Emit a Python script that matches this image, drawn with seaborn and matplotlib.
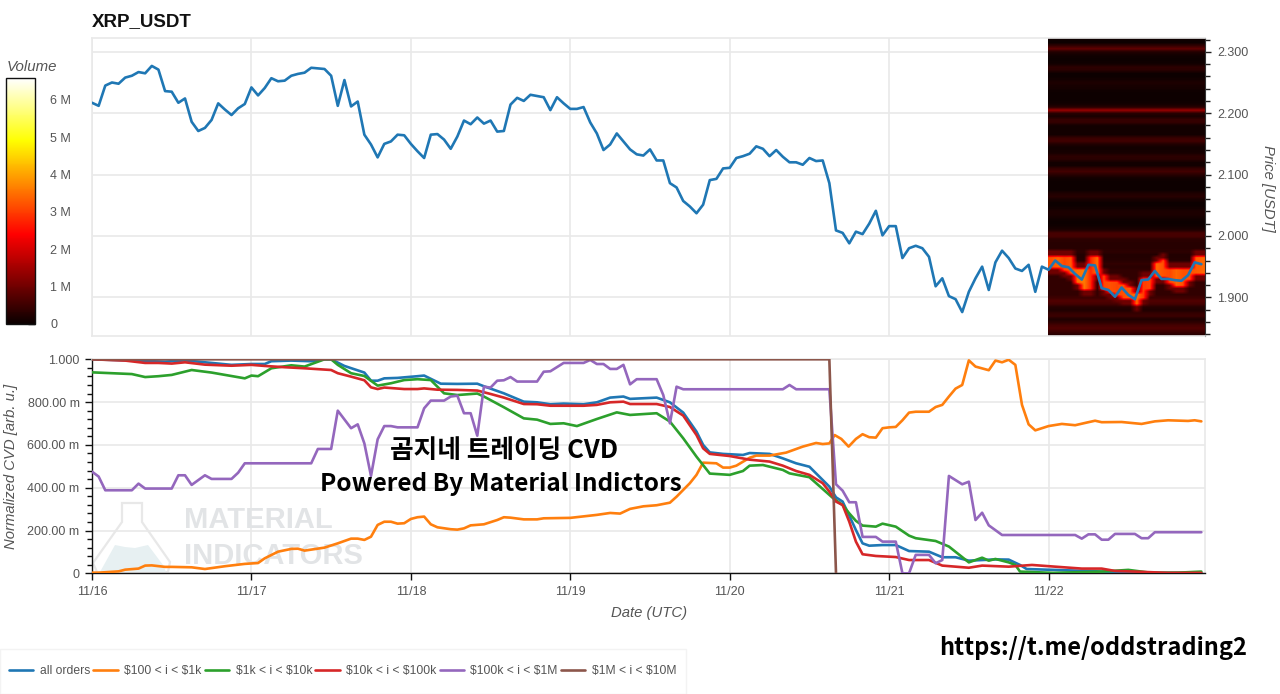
import numpy as np
import pandas as pd
import matplotlib
matplotlib.use("Agg")
import matplotlib.pyplot as plt
import seaborn as sns
from matplotlib.patches import Polygon, Rectangle
from matplotlib.ticker import MultipleLocator

sns.set_theme(style="white")
plt.rcParams["font.family"] = ["Liberation Sans", "DejaVu Sans"]
plt.rcParams["text.parse_math"] = False

price = [2.217,2.212,2.245,2.250,2.248,2.258,2.261,2.267,2.265,2.277,2.271,2.236,2.235,2.217,2.224,2.186,2.171,2.176,2.189,2.216,2.206,2.197,2.208,2.215,
2.242,2.229,2.241,2.257,2.252,2.253,2.261,2.264,2.266,2.274,2.273,2.272,2.261,2.212,2.254,2.211,2.219,2.165,2.149,2.128,2.150,2.154,2.165,2.164,
2.150,2.138,2.127,2.165,2.166,2.157,2.142,2.162,2.188,2.182,2.193,2.183,2.188,2.170,2.171,2.214,2.225,2.220,2.230,2.228,2.226,2.205,2.226,2.216,
2.207,2.207,2.210,2.185,2.167,2.140,2.149,2.167,2.154,2.141,2.133,2.131,2.141,2.123,2.123,2.086,2.079,2.057,2.048,2.037,2.051,2.091,2.093,2.110,
2.111,2.127,2.130,2.134,2.146,2.142,2.130,2.140,2.129,2.120,2.120,2.116,2.127,2.122,2.123,2.086,2.009,2.005,1.988,2.007,2.003,2.020,2.041,2.001,
2.016,2.016,1.964,1.980,1.984,1.980,1.966,1.918,1.931,1.902,1.897,1.876,1.909,1.931,1.950,1.912,1.957,1.976,1.964,1.947,1.943,1.953,1.909,1.950,
1.945,1.960,1.951,1.949,1.938,1.929,1.953,1.952,1.915,1.912,1.901,1.916,1.904,1.897,1.928,1.929,1.943,1.930,1.930,1.928,1.927,1.936,1.957,1.954]
price_hour = list(range(168))

all_h = [0,6,11,14,17,21,24,26,27,30,33,35,36,38,41,42,43,44,46,49,50,52.5,55,58,59,62,65,67,69,71,74,76,78,80,81,83,85,87,89,91,92,93,95,98,99,102,104,106,108,110,111,112,113,114,115,116,117,119,121,123,126,128,130,132,136,138,139.7,140.7,144.7,149.7,154.7,159.7,167]
all_v = [1.0,.994,.989,.995,.986,.974,.978,.978,.991,.994,.991,1.0,1.0,.969,.938,.900,.900,.911,.913,.921,.924,.886,.885,.886,.874,.841,.802,.799,.790,.793,.790,.799,.821,.826,.815,.818,.821,.799,.751,.662,.600,.565,.558,.553,.562,.558,.537,.514,.498,.436,.405,.355,.335,.269,.202,.140,.129,.132,.132,.104,.101,.075,.075,.059,.065,.064,.039,.020,.016,.011,.005,.002,.002]

o_h = [0,1,4,5,7,8,9,11,12,15,17,20,23,25,26,28,30,31,32,35,37,39,40,41,42,43,44,45,46,47,48,49,50,51,52,54,55,56,57,59,61,62,63,65,67,68,72,74,76,78,79.5,81,83,85,87,88,90,91,92,94,95,96,97,99,100,102,104.5,107,109,110,111,111.8,112.8,113.9,115,116,117,118,119,120,121,122,123,124,126,127,128,129,130,131,132,133,135,136,137,138,139,140,141,142,144,146,148,149.7,151,152,155,158,160,162,165,166,167]
o_v = [.003,.003,.009,.017,.022,.036,.037,.030,.030,.028,.020,.033,.044,.048,.070,.101,.114,.115,.106,.120,.140,.162,.162,.156,.171,.226,.241,.241,.232,.234,.254,.262,.265,.229,.215,.206,.204,.210,.224,.229,.249,.262,.260,.252,.252,.257,.259,.266,.273,.282,.279,.301,.313,.318,.330,.358,.421,.460,.517,.514,.494,.494,.503,.540,.550,.550,.564,.592,.609,.604,.607,.646,.628,.592,.628,.650,.636,.634,.678,.682,.684,.715,.751,.755,.755,.777,.787,.826,.863,.880,.995,.966,.949,.994,.986,.998,.974,.787,.696,.668,.688,.698,.692,.704,.713,.706,.707,.698,.710,.715,.712,.715,.710]

g_h = [0,6,8,10,12,15,18,23,24,25,27,30,32,35,36,37,39,41,43,45,47,49,51,53,55,58,59,62,65,67,69,71,73,76,79,81,85,87,89,91,93,96,98,99,101,104,105,108,110,111.6,113,114,115,116,118,119,121,123,124,127,129,132,134,135,136,138,139,139.7,144.7,152,156,159.5,163.5,167]
g_v = [.939,.931,.917,.921,.927,.950,.938,.911,.924,.921,.958,.972,.966,1.0,1.0,.974,.935,.922,.877,.888,.903,.907,.903,.841,.833,.840,.826,.776,.724,.718,.698,.701,.688,.721,.752,.740,.748,.709,.631,.545,.466,.460,.478,.503,.506,.483,.467,.449,.394,.350,.319,.280,.245,.223,.218,.232,.218,.176,.164,.151,.125,.051,.073,.059,.067,.051,.039,.008,.002,.008,.016,.002,.003,.008]

r_h = [0,5,8,10,12,14,17,21,24,26,29,32,36,37,39,41,42,43,44,47,49,50,52,55,58,60,62,65,67,69,74,76,78,80,81,85,87,89,91,92,93,96,99,102,104,106,108,110,111,112,113,114,115,116,118,121,123,126,128,132,134,138,141.5,145,149,152,154,157,162,167]
r_v = [1.0,.994,.983,.983,.980,.986,.975,.970,.974,.969,.963,.958,.950,.935,.919,.902,.869,.861,.868,.861,.861,.864,.858,.857,.854,.838,.821,.791,.790,.783,.783,.787,.799,.802,.791,.791,.777,.737,.646,.584,.558,.548,.531,.522,.503,.478,.460,.421,.382,.335,.319,.241,.148,.089,.081,.076,.062,.062,.036,.026,.036,.031,.039,.031,.022,.022,.011,.008,.002,.002]

p_h = [0,1,2,6,7,8,12,13,14,15,17,18,21,22,23,33,34,36,37,39,40,41,42,43,44,45,46,49,50,51,53,54,55,56,57,58,59,60,61,62,63,64,67,68,69,71,74,75,76,77,78,79,80,81,82,85,86,87,88,89,104,105,106,111,112,113,114,115,116,118,119,121,122,123,124,126,127,128,129,131,132,133,134,135,137,148,149,150,151,152,153,154,157,158,159,160,167]
p_v = [.475,.452,.388,.388,.419,.396,.396,.458,.458,.413,.458,.441,.441,.470,.514,.514,.581,.581,.760,.678,.696,.607,.455,.626,.688,.688,.682,.682,.771,.807,.807,.826,.830,.748,.748,.643,.872,.868,.900,.902,.917,.896,.896,.942,.944,.983,.983,.997,.978,.978,.955,.955,.974,.883,.907,.907,.833,.701,.872,.860,.860,.880,.860,.860,.416,.386,.332,.332,.170,.170,.148,.148,0,0,.086,.086,.047,.062,.455,.416,.428,.249,.283,.224,.179,.179,.162,.182,.182,.157,.157,.184,.184,.164,.164,.192,.192]

b_h = [0,111,112]
b_v = [1.0,1.0,0.0]

series_names = ["all orders", "$100 < i < $1k", "$1k < i < $10k", "$10k < i < $100k", "$100k < i < $1M", "$1M < i < $10M"]
series_hours = [all_h, o_h, g_h, r_h, p_h, b_h]
series_values = [all_v, o_v, g_v, r_v, p_v, b_v]
colors = ["#1f77b4", "#ff7f0e", "#2ca02c", "#d62728", "#9467bd", "#8c564b"]

day_labels = ["11/16", "11/17", "11/18", "11/19", "11/20", "11/21", "11/22"]
day_hours = [0, 24, 48, 72, 96, 120, 144]
price_ticks = [1.9, 2.0, 2.1, 2.2, 2.3]
volume_ticks = [0, 1e6, 2e6, 3e6, 4e6, 5e6, 6e6]
volume_labels = ["0", "1 M", "2 M", "3 M", "4 M", "5 M", "6 M"]
cvd_ticks = [0, .2, .4, .6, .8, 1.0]
cvd_labels = ["0", "200.00 m", "400.00 m", "600.00 m", "800.00 m", "1.000"]

# volume profile
row_price = [1.84,1.845,1.85,1.855,1.86,1.865,1.87,1.875,1.88,1.885,1.89,1.895,1.90,1.905,1.91,1.915,1.92,1.925,1.93,1.935,1.94,1.945,1.95,1.955,1.96,1.965,1.97,1.975,1.98,1.985,1.99,1.995,2.0,2.005,2.01,2.015,2.02,2.025,2.03,2.035,2.04,2.045,2.05,2.055,2.06,2.065,2.07,2.075,2.08,2.085,2.09,2.095,2.10,2.105,2.11,2.115,2.12,2.125,2.13,2.135,2.14,2.145,2.15,2.155,2.16,2.165,2.17,2.175,2.18,2.185,2.19,2.195,2.20,2.205,2.21,2.215,2.22,2.225,2.23,2.235,2.24,2.245,2.25,2.255,2.26,2.265,2.27,2.275,2.28,2.285,2.29,2.295,2.30,2.305,2.31,2.315,2.32]
row_volume = [.3,.5,.7,.6,.35,.2,.5,.4,.2,.3,.6,.7,.5,.4,.4,.4,.4,.4,.4,.4,.4,.4,.3,.4,.3,.25,.25,.35,.3,.3,.3,.35,.6,.6,.2,.1,.05,.05,.1,.2,.2,.1,.05,.05,.15,.3,.2,.05,.05,.05,.05,.1,.3,.55,.4,.1,.1,.3,.35,.15,.1,.1,.25,.55,.45,.1,.1,.1,.1,.4,.45,.15,.3,1.4,.3,.1,.05,.05,.05,.05,.1,.15,.2,.1,.05,.05,.3,.35,.1,.05,.05,.1,.25,.85,.4,.05,.05]
band_hour = list(range(144, 168))
band_low = [1.946,1.948,1.942,1.940,1.925,1.913,1.915,1.940,1.913,1.908,1.902,1.900,1.900,1.889,1.900,1.915,1.932,1.935,1.922,1.920,1.920,1.928,1.938,1.940]
band_high = [1.968,1.968,1.968,1.966,1.945,1.945,1.968,1.968,1.935,1.928,1.925,1.920,1.918,1.905,1.930,1.932,1.958,1.960,1.948,1.948,1.948,1.948,1.968,1.968]
band_volume = [3.2,3.4,3.1,3.3,3.5,3.6,2.8,3.5,3.1,3.2,3.1,3.2,3.3,3.5,3.0,3.1,3.4,3.2,3.1,3.4,3.2,3.2,3.3,3.4]
halo_margin = 0.01
halo_volume = 1.0

rows = np.array(row_price)
matrix = np.tile(np.array(row_volume), (len(band_hour), 1)).T * 1e6
for j, (lo, hi, vol) in enumerate(zip(band_low, band_high, band_volume)):
    halo = (rows >= lo - halo_margin) & (rows <= hi + halo_margin)
    matrix[halo, j] = np.maximum(matrix[halo, j], halo_volume * 1e6)
    core = (rows >= lo) & (rows <= hi)
    matrix[core, j] = vol * 1e6

W, H = 1280, 694
def rect(l, t, r, b):
    return [l / W, 1 - b / H, (r - l) / W, (b - t) / H]

fig = plt.figure(figsize=(W / 100, H / 100), dpi=100, facecolor="white")
ax1 = fig.add_axes(rect(92, 38, 1205, 335.7))
ax2 = fig.add_axes(rect(92, 359.3, 1205, 573.3))
cax = fig.add_axes(rect(6, 78, 35, 324))

GRID = "#e9e9e9"
TXT = "#555555"
XMAX = 167.55

# --- price panel
im = ax1.imshow(matrix, origin="lower", aspect="auto", cmap="hot", vmin=0, vmax=6.58e6,
                extent=[143.85, XMAX, 1.8375, 2.3225], interpolation="bilinear", zorder=2)
sns.lineplot(x=price_hour, y=price, ax=ax1, color="#1f77b4", lw=1.9, zorder=3, estimator=None, sort=False)
ax1.set_xlim(0, XMAX)
ax1.set_ylim(1.8375, 2.3225)
ax1.set_xticks(day_hours)
ax1.tick_params(axis="x", length=0, labelbottom=False)
ax1.yaxis.tick_right()
ax1.yaxis.set_label_position("right")
ax1.set_yticks(price_ticks)
ax1.set_yticklabels([f"{v:.3f}" for v in price_ticks])
ax1.yaxis.set_minor_locator(MultipleLocator(0.02))
ax1.tick_params(axis="y", which="major", direction="out", length=4, width=1, color="#222222",
                labelsize=9, labelcolor=TXT, pad=5, right=True, left=False)
ax1.tick_params(axis="y", which="minor", direction="out", length=3.5, width=1, color="#222222", right=True, left=False)
ax1.grid(True, color=GRID, lw=1.2, zorder=0)
ax1.set_axisbelow(True)
for s in ax1.spines.values():
    s.set_color(GRID); s.set_linewidth(1.2)
ax1.spines["right"].set_color("#333333")
ax1.spines["right"].set_linewidth(0.8)

# --- CVD panel
for name, hrs, vals, col in zip(series_names, series_hours, series_values, colors):
    d = pd.DataFrame({"hour": hrs, "cvd": vals})
    sns.lineplot(data=d, x="hour", y="cvd", ax=ax2, color=col, lw=1.9, label=name,
                 estimator=None, sort=False, zorder=3)
ax2.set_xlim(0, XMAX)
ax2.set_ylim(0, 1)
ax2.set_xticks(day_hours)
ax2.set_xticklabels(day_labels)
ax2.set_yticks(cvd_ticks)
ax2.set_yticklabels(cvd_labels)
ax2.yaxis.set_minor_locator(MultipleLocator(0.04))
ax2.tick_params(axis="both", which="major", direction="out", length=5, width=1, color="#111111",
                labelsize=9, labelcolor=TXT, pad=4, left=True, bottom=True)
ax2.tick_params(axis="y", which="minor", direction="out", length=3.5, width=1, color="#111111", left=True)
ax2.grid(True, color=GRID, lw=1.2, zorder=0)
ax2.set_axisbelow(True)
ax2.set_xlabel("")
ax2.set_ylabel("")
for side in ["top", "right"]:
    ax2.spines[side].set_color(GRID); ax2.spines[side].set_linewidth(1.2)
for side in ["left", "bottom"]:
    ax2.spines[side].set_color("#111111"); ax2.spines[side].set_linewidth(1.0)

handles, labels = ax2.get_legend_handles_labels()
ax2.get_legend().remove()

# --- colour bar
cb = fig.colorbar(im, cax=cax, ticks=volume_ticks)
cb.ax.set_yticklabels(volume_labels)
cb.ax.tick_params(direction="in", length=5, width=1, color="#111111", labelsize=9, labelcolor=TXT, pad=11)
cb.outline.set_edgecolor("#111111")
cb.outline.set_linewidth(1.0)

def ftext(x, y, s, **kw):
    return fig.text(x / W, 1 - y / H, s, **kw)

ftext(7, 67, "Volume", fontsize=10.8, style="italic", color=TXT, ha="left", va="center")
ftext(92, 22, "XRP_USDT", fontsize=13.5, fontweight="bold", color="#111111", ha="left", va="center")
ftext(1268, 188, "Price [USDT]", fontsize=10.7, style="italic", color=TXT, rotation=-90, ha="center", va="center")
ftext(11, 466, "Normalized CVD [arb. u.]", fontsize=10.7, style="italic", color=TXT, rotation=90, ha="center", va="center")
ftext(649, 613, "Date (UTC)", fontsize=10.7, style="italic", color=TXT, ha="center", va="center")

# --- watermark behind the CVD lines
flask = Polygon([(122,503),(142,503),(142,522),(170,562),(168,572),(97,572),(93,563),(122,522)],
                closed=True, fill=False, ec="#e8e8e8", lw=1.6, zorder=1)
peak = Polygon([(100,572),(115,545),(125,547),(135,548),(148,545),(163,565),(166,572)],
               closed=True, fc="#e7f0f2", ec="none", zorder=1)
for patch in (flask, peak):
    patch.set_xy(np.c_[patch.get_xy()[:, 0] / W, 1 - patch.get_xy()[:, 1] / H])
    patch.set_transform(fig.transFigure)
    patch.set_clip_on(False)
    ax2.add_artist(patch)
for s, yy in (("MATERIAL", 520), ("INDICATORS", 556)):
    ax2.text(184 / W, 1 - yy / H, s, transform=fig.transFigure, fontsize=21, fontweight="bold",
             color="#e2e4e6", ha="left", va="center", zorder=1)

# --- overlay captions
kr = ["Noto Sans CJK KR", "DejaVu Sans"]
ftext(504, 450, "곰지네 트레이딩 CVD", fontsize=18.5, fontweight="bold", family=kr, color="black", ha="center", va="center", zorder=10)
ftext(500.5, 484, "Powered By Material Indictors", fontsize=17.5, fontweight="bold", family=kr, color="black", ha="center", va="center", zorder=10)
ftext(1093.5, 648, "https://t.me/oddstrading2", fontsize=17, fontweight="bold", family=kr, color="black", ha="center", va="center", zorder=10)

# --- legend
fig.add_artist(Rectangle((0, 0), 686 / W, 45 / H, transform=fig.transFigure, fc="white", ec="#f3f3f3", lw=1, zorder=0))
fig.legend(handles, labels, ncol=6, loc="center left", bbox_to_anchor=(9 / W, 1 - 671 / H), frameon=False,
           fontsize=8.7, labelcolor=TXT, handlelength=2.0, handletextpad=0.55, columnspacing=0.27, borderpad=0, borderaxespad=0)

fig.savefig("out.png", dpi=100)
